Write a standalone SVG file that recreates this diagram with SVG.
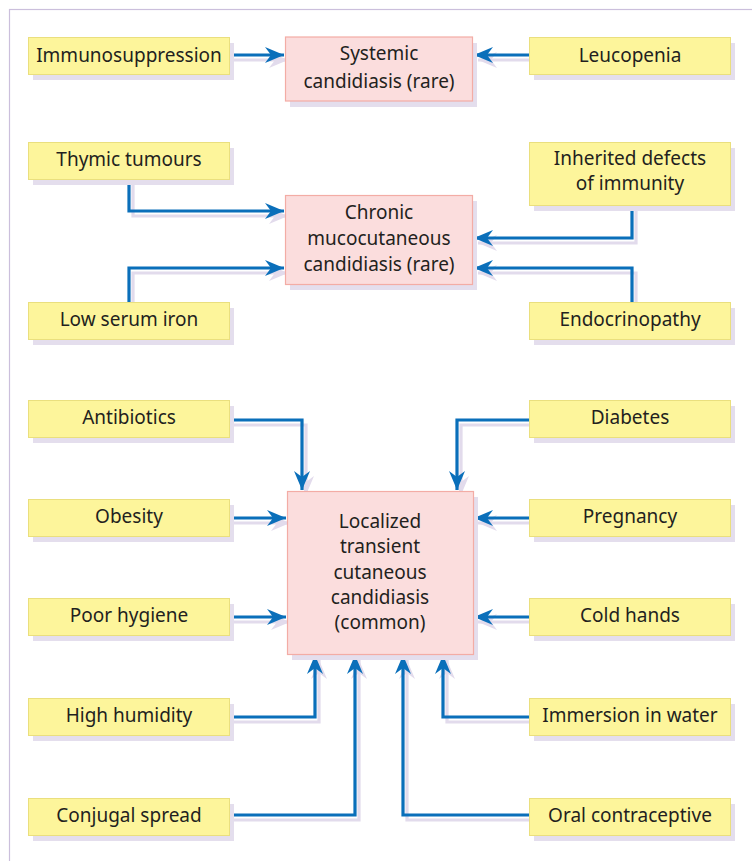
<svg xmlns="http://www.w3.org/2000/svg" width="752" height="861" viewBox="0 0 752 861">
<defs>
<marker id="ah" viewBox="-20 -9 21 18" refX="0" refY="0" markerWidth="21" markerHeight="18" markerUnits="userSpaceOnUse" orient="auto">
<path d="M0,0 L-19,-8 L-13,0 L-19,8 Z" fill="#0a6fba"/>
</marker>
<marker id="ahs" viewBox="-20 -9 21 18" refX="0" refY="0" markerWidth="21" markerHeight="18" markerUnits="userSpaceOnUse" orient="auto">
<path d="M0,0 L-19,-8 L-13,0 L-19,8 Z" fill="#e2dbec"/>
</marker>
</defs>
<style>
.y{fill:#fdf59b;stroke:#eadf7e;stroke-width:1}
.p{fill:#fbdddd;stroke:#f3aca5;stroke-width:1.2}
.sh{fill:#e4deed}
.t{font-family:"Noto Sans","Open Sans",sans-serif;font-size:19px;fill:#231f20;text-anchor:middle}
.c path.l{fill:none;stroke:#0a6fba;stroke-width:3.2;marker-end:url(#ah)}
.c path.s{fill:none;stroke:#e2dbec;stroke-width:3.2;marker-end:url(#ahs)}
</style>
<rect width="752" height="861" fill="#ffffff"/>
<rect x="9.5" y="9.5" width="760" height="880" fill="none" stroke="#cbbfdc" stroke-width="1.2"/>

<g class="c" id="connectors">
<g transform="translate(4,5)">
<path class="s" d="M229,55 H284"/>
<path class="s" d="M529,55 H474"/>
<path class="s" d="M129,179 V211 H284"/>
<path class="s" d="M129,302 V268 H284"/>
<path class="s" d="M632,205 V238 H474"/>
<path class="s" d="M632,302 V268 H474"/>
<path class="s" d="M229,420 H302 V490"/>
<path class="s" d="M529,420 H457 V490"/>
<path class="s" d="M229,518 H286"/>
<path class="s" d="M229,617 H286"/>
<path class="s" d="M529,518 H474"/>
<path class="s" d="M529,617 H474"/>
<path class="s" d="M229,717 H315 V655"/>
<path class="s" d="M229,815 H355 V655"/>
<path class="s" d="M529,717 H443 V655"/>
<path class="s" d="M529,815 H403 V655"/>
</g>
<path class="l" d="M229,55 H284"/>
<path class="l" d="M529,55 H474"/>
<path class="l" d="M129,179 V211 H284"/>
<path class="l" d="M129,302 V268 H284"/>
<path class="l" d="M632,205 V238 H474"/>
<path class="l" d="M632,302 V268 H474"/>
<path class="l" d="M229,420 H302 V490"/>
<path class="l" d="M529,420 H457 V490"/>
<path class="l" d="M229,518 H286"/>
<path class="l" d="M229,617 H286"/>
<path class="l" d="M529,518 H474"/>
<path class="l" d="M529,617 H474"/>
<path class="l" d="M229,717 H315 V655"/>
<path class="l" d="M229,815 H355 V655"/>
<path class="l" d="M529,717 H443 V655"/>
<path class="l" d="M529,815 H403 V655"/>
</g>

<g id="systemic"><rect class="sh" x="290" y="43" width="187" height="64"/><rect class="p" x="285.5" y="37" width="187" height="64"/><text class="t" x="379" y="60">Systemic</text><text class="t" x="379" y="88">candidiasis (rare)</text></g>
<g id="chronic"><rect class="sh" x="290" y="201" width="187" height="89"/><rect class="p" x="285.5" y="195.5" width="187" height="89"/><text class="t" x="379" y="219">Chronic</text><text class="t" x="379" y="245">mucocutaneous</text><text class="t" x="379" y="271">candidiasis (rare)</text></g>
<g id="localized"><rect class="sh" x="292" y="497" width="186" height="163"/><rect class="p" x="287.5" y="491.5" width="186" height="163"/><text class="t" x="380" y="528">Localized</text><text class="t" x="380" y="553">transient</text><text class="t" x="380" y="579">cutaneous</text><text class="t" x="380" y="604">candidiasis</text><text class="t" x="380" y="629">(common)</text></g>

<g id="immunosuppression"><rect class="sh" x="33" y="43" width="201" height="37"/><rect class="y" x="28.5" y="37.5" width="201" height="37"/><text class="t" x="129" y="62">Immunosuppression</text></g>
<g id="leucopenia"><rect class="sh" x="534" y="43" width="201" height="37"/><rect class="y" x="529.5" y="37.5" width="201" height="37"/><text class="t" x="630" y="62">Leucopenia</text></g>
<g id="thymic"><rect class="sh" x="33" y="148" width="201" height="37"/><rect class="y" x="28.5" y="142.5" width="201" height="37"/><text class="t" x="129" y="166">Thymic tumours</text></g>
<g id="inherited"><rect class="sh" x="534" y="148" width="201" height="63"/><rect class="y" x="529.5" y="142.5" width="201" height="63"/><text class="t" x="630" y="165">Inherited defects</text><text class="t" x="630" y="190">of immunity</text></g>
<g id="lowiron"><rect class="sh" x="33" y="308" width="201" height="37"/><rect class="y" x="28.5" y="302.5" width="201" height="37"/><text class="t" x="129" y="326">Low serum iron</text></g>
<g id="endocrinopathy"><rect class="sh" x="534" y="308" width="201" height="37"/><rect class="y" x="529.5" y="302.5" width="201" height="37"/><text class="t" x="630" y="326">Endocrinopathy</text></g>

<g id="antibiotics"><rect class="sh" x="33" y="406" width="201" height="37"/><rect class="y" x="28.5" y="400.5" width="201" height="37"/><text class="t" x="129" y="424">Antibiotics</text></g>
<g id="diabetes"><rect class="sh" x="534" y="406" width="201" height="37"/><rect class="y" x="529.5" y="400.5" width="201" height="37"/><text class="t" x="630" y="424">Diabetes</text></g>
<g id="obesity"><rect class="sh" x="33" y="505" width="201" height="37"/><rect class="y" x="28.5" y="499.5" width="201" height="37"/><text class="t" x="129" y="523">Obesity</text></g>
<g id="pregnancy"><rect class="sh" x="534" y="505" width="201" height="37"/><rect class="y" x="529.5" y="499.5" width="201" height="37"/><text class="t" x="630" y="523">Pregnancy</text></g>
<g id="hygiene"><rect class="sh" x="33" y="604" width="201" height="37"/><rect class="y" x="28.5" y="598.5" width="201" height="37"/><text class="t" x="129" y="622">Poor hygiene</text></g>
<g id="coldhands"><rect class="sh" x="534" y="604" width="201" height="37"/><rect class="y" x="529.5" y="598.5" width="201" height="37"/><text class="t" x="630" y="622">Cold hands</text></g>
<g id="humidity"><rect class="sh" x="33" y="704" width="201" height="37"/><rect class="y" x="28.5" y="698.5" width="201" height="37"/><text class="t" x="129" y="722">High humidity</text></g>
<g id="immersion"><rect class="sh" x="534" y="704" width="201" height="37"/><rect class="y" x="529.5" y="698.5" width="201" height="37"/><text class="t" x="630" y="722">Immersion in water</text></g>
<g id="conjugal"><rect class="sh" x="33" y="804" width="201" height="37"/><rect class="y" x="28.5" y="798.5" width="201" height="37"/><text class="t" x="129" y="822">Conjugal spread</text></g>
<g id="oral"><rect class="sh" x="534" y="804" width="201" height="37"/><rect class="y" x="529.5" y="798.5" width="201" height="37"/><text class="t" x="630" y="822">Oral contraceptive</text></g>
</svg>
